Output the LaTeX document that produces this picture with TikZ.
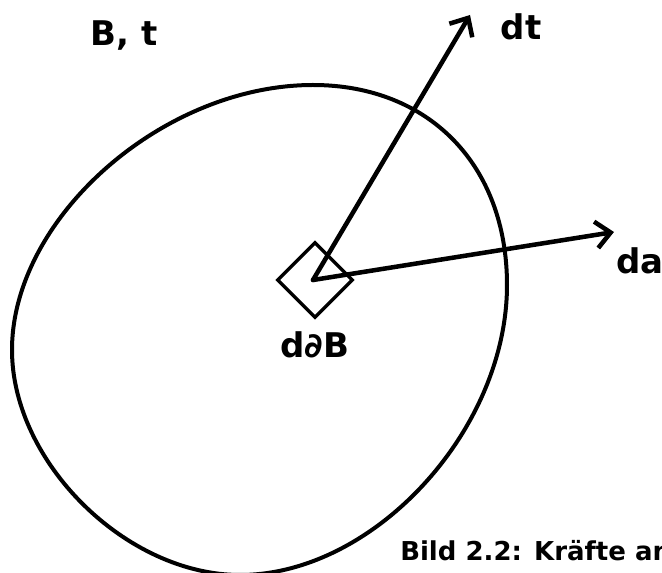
\documentclass[tikz,border=0pt]{standalone}
\usepackage{fontspec}
\setmainfont{DejaVu Sans}
\usetikzlibrary{arrows.meta, positioning, shapes.geometric}

\begin{document}
\begin{tikzpicture}[
    x=0.75pt, y=-0.75pt,
    node distance=6pt,
    body/.style={line width=3pt, line cap=round, line join=round},
    vec/.style={line width=3.4pt, line cap=round, -{Straight Barb[length=11pt, width=20pt]}},
    patch/.style={diamond, draw, line width=2.6pt, aspect=1, inner sep=0pt, minimum size=57pt},
    lbl/.style={font=\fontsize{25.5}{30}\selectfont\bfseries, inner sep=0pt},
    caption/.style={font=\fontsize{19.5}{24}\selectfont\bfseries, inner sep=0pt, anchor=west}
]
\useasboundingbox (0,0) rectangle (662,573);
\clip (0,0) rectangle (662,573);

% Body
\draw[body] (313,85) .. controls (429,85) and (507,165) .. (507,285)
    .. controls (507,430) and (374,575) .. (240,575)
    .. controls (126,575) and (12,462) .. (12,350)
    .. controls (12,218) and (163,85) .. (313,85) -- cycle;

% Surface element and vectors
\node[patch] (dA) at (315,280) {};
\coordinate (c) at (313,280);
\coordinate (dtTip) at (470,15);
\coordinate (daTip) at (614,232);
\draw[vec] (c) -- (dtTip);
\draw[vec] (c) -- (daTip);

% Labels
\node[lbl] (Bt) at (124,36) {B, t};
\node[lbl] (dt) at (521,27) {dt};
\node[lbl] (da) at (640,261) {da};
\node[lbl, below=9pt of dA] (dB) {d∂B};
\node[caption] (cap) at (400,551) {Bild 2.2: Kräfte an};

\end{tikzpicture}
\end{document}
